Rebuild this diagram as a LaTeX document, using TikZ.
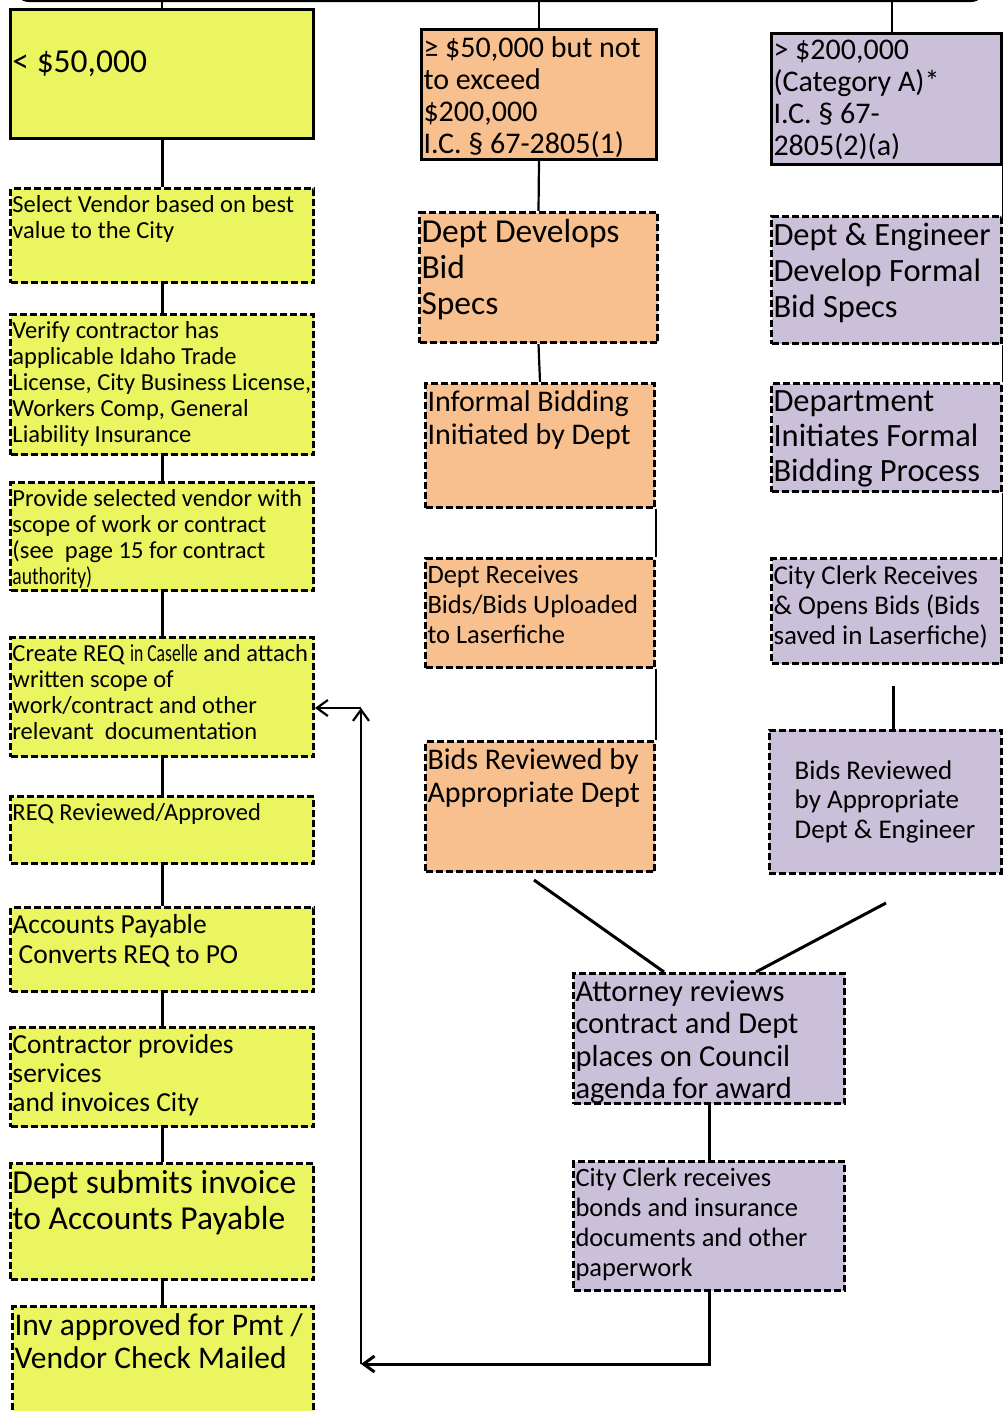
\documentclass[tikz,border=0pt]{standalone}
\usepackage{fontspec}
\usepackage{graphicx}
\setmainfont{Carlito}
\usetikzlibrary{arrows.meta}
\definecolor{yel}{HTML}{EAF55F}
\definecolor{ora}{HTML}{F8C08F}
\definecolor{pur}{HTML}{CBC0DA}
\tikzstyle{stepbox} = [draw, line width=3pt, dash pattern=on 7pt off 3pt, inner sep=2pt, anchor=north west]
\tikzstyle{headbox} = [stepbox, solid]
\tikzstyle{link} = [line width=3pt]
\tikzstyle{back} = [line width=2.2pt, -{Straight Barb[length=11pt,width=16pt]}]
\newcommand{\boxtxt}[3]{\parbox[c][\dimexpr#2pt-4pt\relax][t]{\dimexpr#1pt-4pt\relax}{\vspace*{5pt}\raggedright #3}}
\newcommand{\fsz}[2]{\fontsize{#1}{#2}\selectfont}

\begin{document}
\begin{tikzpicture}[x=1pt,y=-1pt]
\useasboundingbox (0,0) rectangle (1003,1411);
\node[draw, line width=2pt, rounded corners=14pt, minimum width=970pt, minimum height=40pt, anchor=south] (bar) at (500,2) {};

% left column
\node[headbox, fill=yel, font=\fsz{33.5}{36}] (lt) at (9,8) {\boxtxt{303}{129}{\vspace*{34pt}< \$50,000}};
\node[stepbox, fill=yel, font=\fsz{24.5}{26}] (sel) at (9,187) {\boxtxt{303}{94}{Select Vendor based on best\\value to the City}};
\node[stepbox, fill=yel, font=\fsz{24.5}{26}] (ver) at (9,313) {\boxtxt{303}{140}{Verify contractor has\\applicable Idaho Trade\\License, City Business License,\\Workers Comp, General\\Liability Insurance}};
\node[stepbox, fill=yel, font=\fsz{24.5}{26}] (prov) at (9,481) {\boxtxt{303}{108}{Provide selected vendor with\\scope of work or contract\\(see\ \ page 15 for contract\\\scalebox{0.8}[1]{authority)}}};
\node[stepbox, fill=yel, font=\fsz{24.5}{26}] (req) at (9,636) {\boxtxt{303}{119}{Create REQ \scalebox{0.72}[1]{in Caselle} and attach\\written scope of\\work/contract and other\\relevant\ \ documentation}};
\node[stepbox, fill=yel, font=\fsz{24.5}{26}] (rev) at (9,795) {\boxtxt{303}{67}{REQ Reviewed/Approved}};
\node[stepbox, fill=yel, font=\fsz{27.5}{30}] (ap) at (9,906) {\boxtxt{303}{84}{Accounts Payable\\\ Converts REQ to PO}};
\node[stepbox, fill=yel, font=\fsz{27.5}{29}] (serv) at (9,1026) {\boxtxt{303}{99}{Contractor provides\\services\\and invoices City}};
\node[stepbox, fill=yel, font=\fsz{33.5}{36}] (inv) at (9,1162) {\boxtxt{303}{116}{Dept submits invoice\\to Accounts Payable}};
\node[stepbox, fill=yel, font=\fsz{31.5}{33}] (pay) at (11,1305) {\boxtxt{301}{112}{Inv approved for Pmt /\\Vendor Check Mailed}};

% middle column
\node[headbox, fill=ora, font=\fsz{30}{32}] (mid) at (420,28) {\boxtxt{235}{130}{≥ \$50,000 but not\\to exceed\\\$200,000\\I.C. § 67-2805(1)}};
\node[stepbox, fill=ora, font=\fsz{33.5}{36}] (mspec) at (418,211) {\boxtxt{238}{130}{Dept Develops\\Bid\\Specs}};
\node[stepbox, fill=ora, font=\fsz{30}{33}] (minf) at (424,382) {\boxtxt{229}{124}{Informal Bidding\\Initiated by Dept}};
\node[stepbox, fill=ora, font=\fsz{26.5}{30}] (mrec) at (424,557) {\boxtxt{229}{109}{Dept Receives\\Bids/Bids Uploaded\\to Laserfiche}};
\node[stepbox, fill=ora, font=\fsz{30}{33}] (mrev) at (424,740) {\boxtxt{229}{130}{Bids Reviewed by\\Appropriate Dept}};

% right column
\node[headbox, fill=pur, font=\fsz{30}{32}] (hi) at (770,32) {\boxtxt{230}{131}{> \$200,000\\(Category A)*\\I.C. § 67-\\2805(2)(a)}};
\node[stepbox, fill=pur, font=\fsz{32.5}{36}] (hspec) at (770,215) {\boxtxt{230}{127}{Dept \& Engineer\\Develop Formal\\Bid Specs}};
\node[stepbox, fill=pur, font=\fsz{32.5}{35}] (hinit) at (770,382) {\boxtxt{230}{108}{Department\\Initiates Formal\\Bidding Process}};
\node[stepbox, fill=pur, font=\fsz{27}{30}] (hclerk) at (770,557) {\boxtxt{230}{105}{City Clerk Receives\\\& Opens Bids (Bids\\saved in Laserfiche)}};
\node[stepbox, fill=pur, anchor=center, minimum width=232pt, minimum height=143pt, align=left, font=\fsz{27}{29.5}] (hrev) at (885,801.5) {Bids Reviewed\\by Appropriate\\Dept \& Engineer};

% award
\node[stepbox, fill=pur, font=\fsz{30.5}{32.5}] (atty) at (572,972) {\boxtxt{271}{130}{Attorney reviews\\contract and Dept\\places on Council\\agenda for award}};
\node[stepbox, fill=pur, font=\fsz{26.5}{30}] (bonds) at (572,1160) {\boxtxt{271}{129}{City Clerk receives\\bonds and insurance\\documents and other\\paperwork}};

\coordinate (hgap) at (893,686);
\coordinate (mcut) at (534,880);
\coordinate (hcut) at (886,903);
\coordinate (loopa) at (361,1364);
\coordinate (loopb) at (361,708);

\draw[line width=2pt] (bar.south -| lt.north) -- (lt.north);
\draw[line width=2pt] (bar.south -| mid.north) -- (mid.north);
\draw[line width=2pt] ([xshift=5pt]bar.south -| hi.north) -- ([xshift=5pt]hi.north);

\draw[link] (lt.south) -- (sel.north);
\draw[link] (sel.south) -- (ver.north);
\draw[link] (ver.south) -- (prov.north);
\draw[link] (prov.south) -- (req.north);
\draw[link] (req.south) -- (rev.north);
\draw[link] (rev.south) -- (ap.north);
\draw[link] (ap.south) -- (serv.north);
\draw[link] (serv.south) -- (inv.north);
\draw[link] (inv.south) -- (pay.north -| inv.south);

\draw[line width=2.2pt] (mid.south) -- (mspec.north);
\draw[line width=2.2pt] (mspec.south) -- (minf.north);
\draw[line width=2.2pt] (minf.south east) -- (mrec.north east);
\draw[line width=2.2pt] (mrec.south east) -- (mrev.north east);

\draw[link] (hi.south east) -- (hspec.north east);
\draw[link] (hspec.south east) -- (hinit.north east);
\draw[link] (hinit.south east) -- (hclerk.north east);
\draw[link] (hgap) -- (hgap |- hrev.north);

\draw[link] (mcut) -- ([xshift=-45pt]atty.north);
\draw[link] (hcut) -- ([xshift=47pt]atty.north);
\draw[link] (atty.south) -- (bonds.north);

\draw[back, line width=3pt] (bonds.south) |- (loopa);
\draw[back] (loopa) -- (loopb);
\draw[back] (loopb) -- (loopb -| req.east);
\end{tikzpicture}
\end{document}
